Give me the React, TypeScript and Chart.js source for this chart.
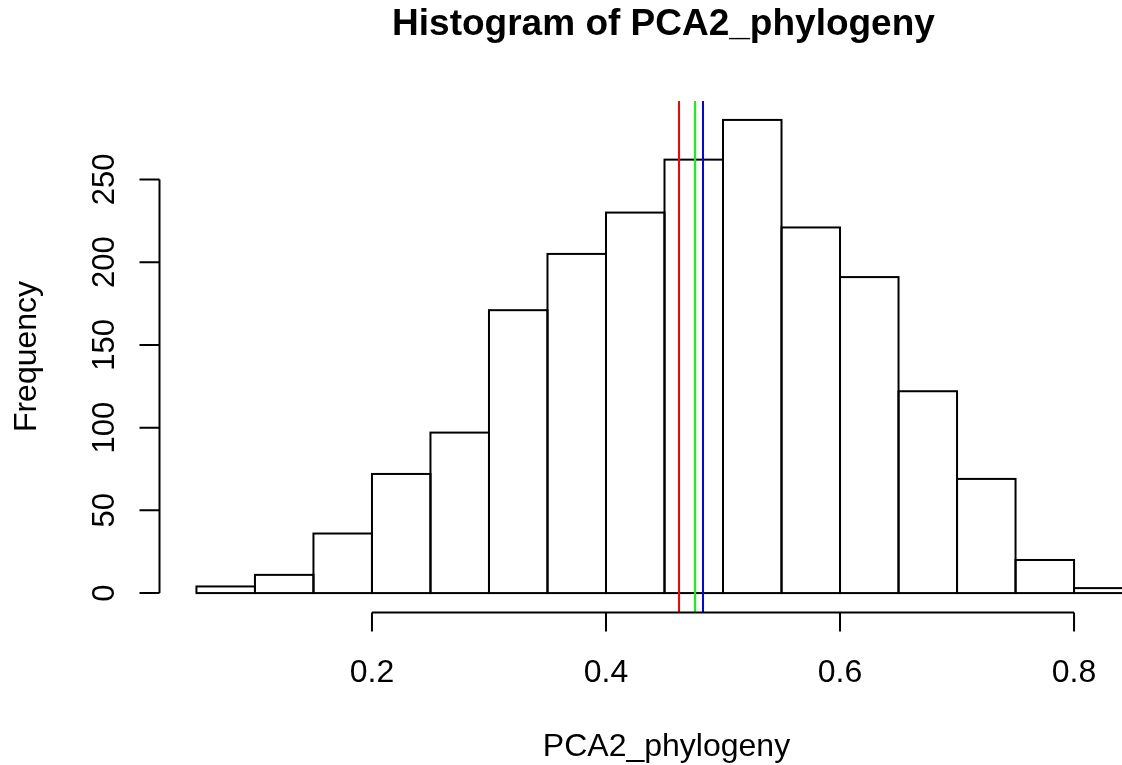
import React, { useEffect, useRef } from "react";
import { Chart, registerables } from "chart.js";

Chart.register(...registerables);

// Histogram bins (mid-points, width 0.05) and counts
const binMids = [0.075, 0.125, 0.175, 0.225, 0.275, 0.325, 0.375, 0.425, 0.475, 0.525, 0.575, 0.625, 0.675, 0.725, 0.775, 0.825];
const counts = [4, 11, 36, 72, 97, 171, 205, 230, 262, 286, 221, 191, 122, 69, 20, 3];

// Vertical reference lines
const refValues = [0.4624, 0.4761, 0.4829];
const refColors = ["#FF0000", "#00FF00", "#0000FF"];

// Axis ticks
const xTicks = [0.2, 0.4, 0.6, 0.8];
const xTickLabels = ["0.2", "0.4", "0.6", "0.8"];
const yTicks = [0, 50, 100, 150, 200, 250];
const yTickLabels = ["0", "50", "100", "150", "200", "250"];

const titleText = "Histogram of PCA2_phylogeny";
const xLabel = "PCA2_phylogeny";
const yLabel = "Frequency";

// R-style extended ranges (4%)
const X_MIN = 0.018;
const X_MAX = 0.882;
const Y_MIN = -11.44;
const Y_MAX = 297.44;

const FONT = "'Liberation Sans', Arial, Helvetica, sans-serif";

const rPlot = {
  id: "rPlot",
  afterDatasetDraw(chart: any, args: any) {
    if (args.meta.type !== "bar") return;
    const ctx = chart.ctx;
    ctx.save();
    ctx.strokeStyle = "#000";
    ctx.lineWidth = 2;
    args.meta.data.forEach((el: any) => {
      const p = el.getProps(["x", "y", "base", "width"], true);
      ctx.strokeRect(p.x - p.width / 2, p.y, p.width, p.base - p.y);
    });
    ctx.restore();
  },
  afterDraw(chart: any) {
    const ctx = chart.ctx;
    const xs = chart.scales.x;
    const ys = chart.scales.y;
    const area = chart.chartArea;
    ctx.save();
    ctx.strokeStyle = "#000";
    ctx.fillStyle = "#000";
    ctx.lineWidth = 2;
    ctx.lineCap = "butt";

    // x axis
    const xa = area.bottom + 0.5;
    ctx.beginPath();
    ctx.moveTo(xs.getPixelForValue(xTicks[0]), xa);
    ctx.lineTo(xs.getPixelForValue(xTicks[xTicks.length - 1]), xa);
    xTicks.forEach((t) => {
      const px = xs.getPixelForValue(t);
      ctx.moveTo(px, xa);
      ctx.lineTo(px, xa + 19);
    });
    ctx.stroke();
    ctx.font = `32px ${FONT}`;
    ctx.textAlign = "center";
    ctx.textBaseline = "alphabetic";
    xTicks.forEach((t, i) => {
      ctx.fillText(xTickLabels[i], xs.getPixelForValue(t), 682);
    });

    // y axis
    const ya = area.left + 0.5;
    ctx.beginPath();
    ctx.moveTo(ya, ys.getPixelForValue(yTicks[0]));
    ctx.lineTo(ya, ys.getPixelForValue(yTicks[yTicks.length - 1]));
    yTicks.forEach((t) => {
      const py = ys.getPixelForValue(t);
      ctx.moveTo(ya, py);
      ctx.lineTo(ya - 20, py);
    });
    ctx.stroke();
    ctx.font = `31px ${FONT}`;
    yTicks.forEach((t, i) => {
      ctx.save();
      ctx.translate(114, ys.getPixelForValue(t));
      ctx.rotate(-Math.PI / 2);
      ctx.fillText(yTickLabels[i], 0, 0);
      ctx.restore();
    });

    const cx = (area.left + area.right) / 2;
    const cy = (area.top + area.bottom) / 2;
    // axis labels
    ctx.font = `32px ${FONT}`;
    ctx.fillText(xLabel, cx + 2, 756);
    ctx.save();
    ctx.translate(36, cy);
    ctx.rotate(-Math.PI / 2);
    ctx.fillText(yLabel, 0, 0);
    ctx.restore();

    // title
    ctx.font = `bold 37px ${FONT}`;
    ctx.fillText(titleText, cx - 1, 35);
    ctx.restore();
  },
};

export default function App() {
  const ref = useRef<HTMLCanvasElement | null>(null);
  useEffect(() => {
    if (!ref.current) return;
    const lineSets = refValues.map((v, i) => ({
      type: "line" as const,
      data: [
        { x: v, y: Y_MIN },
        { x: v, y: Y_MAX },
      ],
      borderColor: refColors[i],
      borderWidth: 2,
      pointRadius: 0,
      fill: false,
    }));
    const chart = new Chart(ref.current, {
      type: "bar",
      data: {
        datasets: [
          ...lineSets,
          {
            type: "bar" as const,
            data: binMids.map((m, i) => ({ x: m, y: counts[i] })),
            backgroundColor: "rgba(255,255,255,0)",
            borderWidth: 0,
            barPercentage: 1,
            categoryPercentage: 1,
          },
        ] as any,
      },
      options: {
        animation: false,
        responsive: false,
        devicePixelRatio: 1,
        events: [],
        layout: { padding: { left: 159, right: 30, top: 101, bottom: 153 } },
        plugins: { legend: { display: false }, tooltip: { enabled: false }, title: { display: false } },
        scales: {
          x: { type: "linear", min: X_MIN, max: X_MAX, display: false, offset: false },
          y: { type: "linear", min: Y_MIN, max: Y_MAX, display: false },
        },
      },
      plugins: [rPlot],
    });
    return () => chart.destroy();
  }, []);
  return (
    <div style={{ position: "fixed", left: 0, top: 0, width: 1122, height: 765, overflow: "hidden", background: "#fff" }}>
      <canvas ref={ref} width={1200} height={765} style={{ display: "block", width: 1200, height: 765 }} />
    </div>
  );
}
